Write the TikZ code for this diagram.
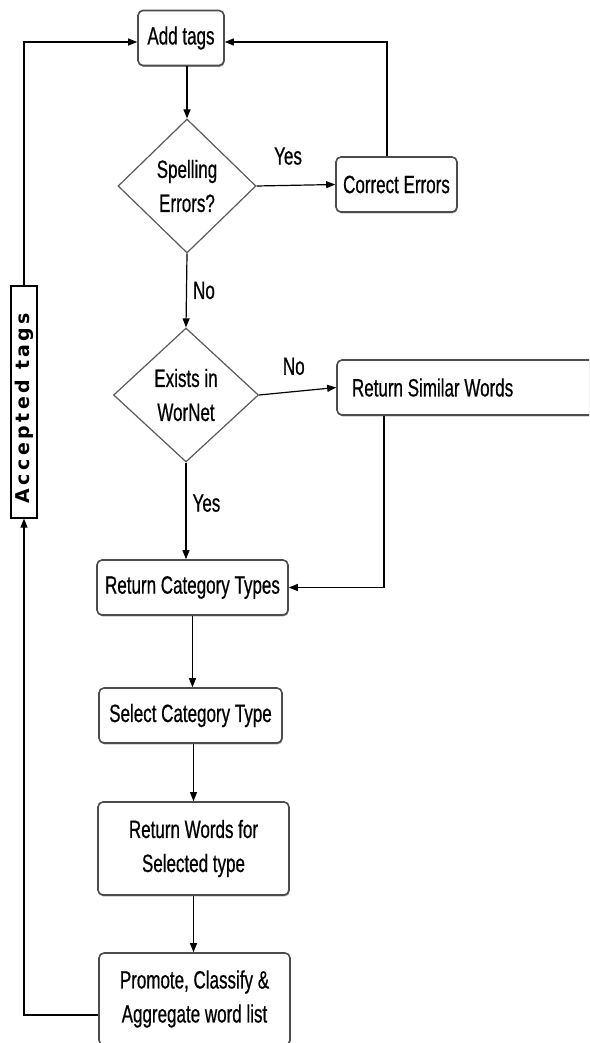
\documentclass[tikz,border=0pt]{standalone}
\usepackage{fontspec}
\setmainfont{Liberation Sans}[FakeStretch=0.68, FakeBold=0.6]
\newfontfamily\accfont{DejaVu Sans}[LetterSpace=18]
\usetikzlibrary{arrows.meta,shapes.geometric,shadows}

\begin{document}
\begin{tikzpicture}[x=1pt,y=-1pt,
  font=\fontsize{25}{34}\selectfont,
  arr/.style={-{Triangle[length=9pt,width=7pt]}, line width=1.2pt, black},
  stepbox/.style={draw=black!70, line width=1.6pt, rounded corners=5pt,
    fill=white, inner sep=0pt, align=center,
    drop shadow={shadow xshift=0.6pt, shadow yshift=-1.4pt, fill=black!50, opacity=0.8}},
  decision/.style={diamond, draw=black!65, line width=1.2pt, inner sep=0pt,
    shape aspect=1, align=center},
  lbl/.style={inner sep=0pt}]

\useasboundingbox (0,0) rectangle (589,1043);
\clip (0,0) rectangle (589,1043);

% process steps
\node[stepbox, minimum width=86pt, minimum height=55pt] (add) at (181,38) {Add tags};
\node[decision, minimum width=138pt, minimum height=134pt] (d1) at (187,186) {Spelling\\Errors?};
\node[stepbox, minimum width=121pt, minimum height=55pt] (ce) at (396.5,184.5) {Correct Errors};
\node[decision, minimum width=145pt, minimum height=134pt] (d2) at (186,395) {Exists in\\WorNet};
\node[stepbox, minimum width=273pt, minimum height=55pt] (rsw) at (473.5,387.5) {\makebox[243pt][l]{Return Similar Words}};
\node[stepbox, minimum width=191pt, minimum height=55pt] (rct) at (192.5,587.5) {Return Category Types};
\node[stepbox, minimum width=183pt, minimum height=55pt] (sct) at (190.5,715.5) {Select Category Type};
\node[stepbox, minimum width=191pt, minimum height=93pt] (rw) at (193.5,848.5) {Return Words for\\Selected type};
\node[stepbox, minimum width=191pt, minimum height=92pt] (pr) at (194.5,999) {Promote, Classify \&\\Aggregate word list};

% feedback label
\node[draw=black, line width=1.2pt, fill=white, minimum width=26pt, minimum height=232pt,
  inner sep=0pt] (acc) at (24,402) {};
\node[rotate=90, font=\accfont\bfseries\fontsize{19}{19}\selectfont] (acct) at ([yshift=-6pt]acc.center) {Accepted tags};

% main flow
\draw[arr] (d1.north |- add.south) -- (d1.north);
\draw[arr] (d1.south) -- node[lbl, right=6pt] {No} (d2.north);
\draw[arr] (d2.south) -- node[lbl, right=6pt, pos=0.42] {Yes} (rct.north -| d2.south);
\draw[arr] (rct.south) -- (sct.north -| rct.south);
\draw[arr] (sct.south -| rw.north) -- (rw.north);
\draw[arr] (rw.south) -- (pr.north -| rw.south);

% side branches
\draw[arr] (d1.east) -- node[lbl, above=20pt, pos=0.4] {Yes} (ce.west);
\draw[arr] ([xshift=-9.5pt]ce.north) |- ([yshift=-4pt]add.east);
\draw[arr] (d2.east) -- node[lbl, above=16pt, pos=0.45] {No} (rsw.west);
\draw[arr] (rsw.south -| 384,0) |- (rct.east);

% accepted tags loop
\draw[arr] ([yshift=-16pt]pr.west) -| (acc.south);
\draw[arr] (acc.north) |- ([yshift=-4pt]add.west);
\end{tikzpicture}
\end{document}
